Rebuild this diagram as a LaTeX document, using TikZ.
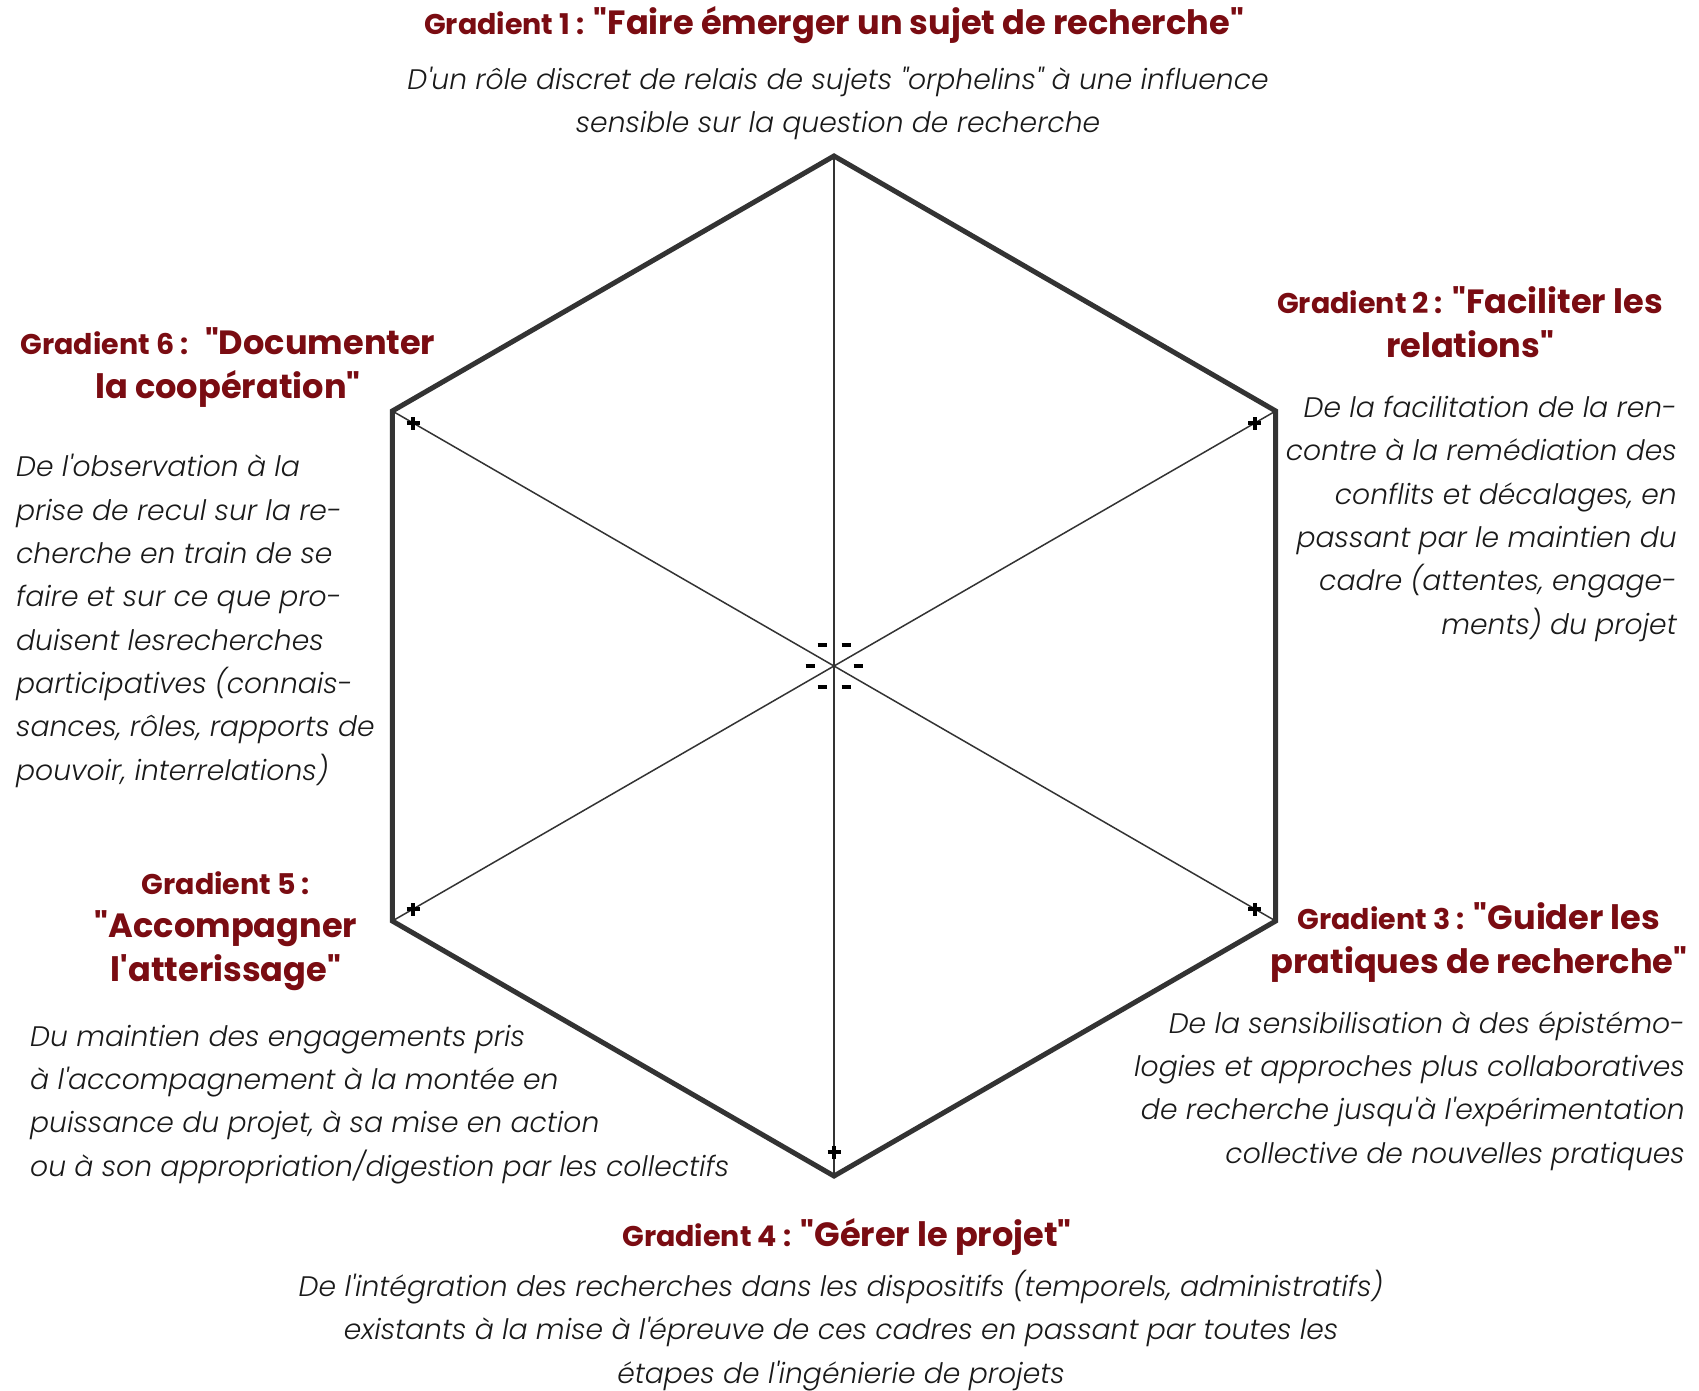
\documentclass[tikz,border=0pt]{standalone}
\usepackage{fontspec}
\setmainfont{Poppins}[Ligatures=TeXOff]
\newfontfamily\bodyfont{Poppins}[Ligatures=TeXOff, ItalicFont={Poppins Light Italic}]
\usetikzlibrary{calc}
\definecolor{titlered}{RGB}{122,12,18}
\definecolor{inkgray}{RGB}{26,26,26}
\definecolor{hexgray}{RGB}{51,51,51}
\newcommand{\gradlabel}[1]{{\fontsize{28.5}{43.3}\selectfont Gradient~#1 :}}
\tikzset{
  hexline/.style={draw=hexgray, line width=5pt},
  diagline/.style={draw=hexgray, line width=1.5pt},
  tickmark/.style={draw=black, line width=4pt},
  gradtitle/.style={font=\fontsize{33.6}{43.3}\selectfont\bfseries, text=titlered, align=center, inner sep=0pt},
  gradtext/.style={font=\fontsize{28.2}{43.3}\selectfont\bodyfont\itshape, text=inkgray, inner sep=0pt},
}
\begin{document}
\begin{tikzpicture}[x=1pt,y=1pt]
\useasboundingbox[fill=white] (0,0) rectangle (1699,-1391);
% hexagon and its diagonals
\coordinate (c) at (834,-666);
\foreach \i/\a in {1/90,2/30,3/-30,4/-90,5/-150,6/150}
  \coordinate (v\i) at ($(c)+(\a:510)$);
\foreach \i/\j in {1/4,2/5,3/6} \draw[diagline] (v\i) -- (v\j);
\draw[hexline] (v1) -- (v2) -- (v3) -- (v4) -- (v5) -- (v6) -- cycle;
% plus marks near the vertices
\foreach \i in {2,...,6} {
  \coordinate (p\i) at ($(v\i)!24pt!(c)$);
  \draw[tickmark] ($(p\i)+(-6.5,0)$) -- ($(p\i)+(6.5,0)$) ($(p\i)+(0,-6.5)$) -- ($(p\i)+(0,6.5)$);
}
% minus marks round the centre
\foreach \a in {0,60,...,300} {
  \coordinate (m) at ($(c)+(\a:24)$);
  \draw[tickmark] ($(m)+(-4.5,0)$) -- ($(m)+(4.5,0)$);
}
% gradient 1 (base anchors sit on the last line)
\node[gradtitle, anchor=base] (g1) at (834,-35) {\gradlabel{1} "Faire émerger un sujet de recherche"};
\node[gradtext, align=center, anchor=base] (d1) at (838,-133)
  {D'un rôle discret de relais de sujets "orphelins" à une influence\\sensible sur la question de recherche};
% gradient 2
\node[gradtitle, anchor=base] (g2) at (1470,-357) {\gradlabel{2} "Faciliter les\\relations"};
\node[gradtext, align=right, anchor=base east] (d2) at (1677,-634)
  {De la facilitation de la ren-\\contre à la remédiation des\\conflits et décalages, en\\passant par le maintien du\\cadre (attentes, engage-\\ments) du projet};
% gradient 3
\node[gradtitle, anchor=base] (g3) at (1479,-973) {\gradlabel{3} "Guider les\\pratiques de recherche"};
\node[gradtext, align=right, anchor=base east] (d3) at (1685,-1163)
  {De la sensibilisation à des épistémo-\\logies et approches plus collaboratives\\de recherche jusqu'à l'expérimentation\\collective de nouvelles pratiques};
% gradient 4
\node[gradtitle, anchor=base] (g4) at (847,-1246) {\gradlabel{4} "Gérer le projet"};
\node[gradtext, align=center, anchor=base] (d4) at (841,-1383)
  {De l'intégration des recherches dans les dispositifs (temporels, administratifs)\\existants à la mise à l'épreuve de ces cadres en passant par toutes les\\étapes de l'ingénierie de projets};
% gradient 5
\node[gradtitle, anchor=base] (g5) at (226,-981) {\gradlabel{5}\\"Accompagner\\l'atterissage"};
\node[gradtext, align=left, anchor=base west] (d5) at (30,-1176)
  {Du maintien des engagements pris\\à l'accompagnement à la montée en\\puissance du projet, à sa mise en action\\ou à son appropriation/digestion par les collectifs};
% gradient 6
\node[gradtitle, anchor=base] (g6) at (228,-398) {\gradlabel{6}\enspace"Documenter\\la coopération"};
\node[gradtext, align=left, anchor=base west] (d6) at (16,-780)
  {De l'observation à la\\prise de recul sur la re-\\cherche en train de se\\faire et sur ce que pro-\\duisent lesrecherches\\participatives (connais-\\sances, rôles, rapports de\\pouvoir, interrelations)};
\end{tikzpicture}
\end{document}
